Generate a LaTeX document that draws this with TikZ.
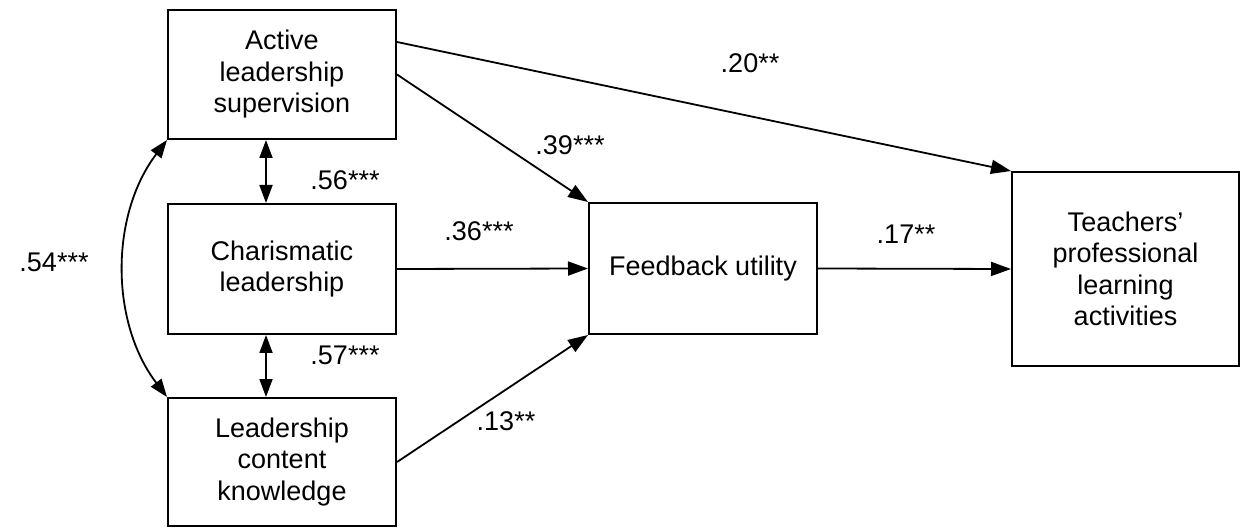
\documentclass[tikz,border=0pt]{standalone}
\usepackage{fontspec}
\setmainfont{Liberation Sans}
\usetikzlibrary{arrows.meta}
\begin{document}
\begin{tikzpicture}[x=1pt,y=-1pt,
  box/.style={draw, line width=2pt, minimum width=228pt, align=center,
    inner sep=0pt, font=\fontsize{27}{31.5}\selectfont},
  coef/.style={inner sep=0pt, font=\fontsize{27}{31.5}\selectfont},
  link/.style={line width=1.8pt, -{Triangle[length=20pt,width=14pt]}},
  corr/.style={line width=1.8pt,
    {Triangle[length=18pt,width=13pt]}-{Triangle[length=18pt,width=13pt]}}]
\useasboundingbox (0,0) rectangle (1248,529);

% constructs
\node[box, minimum height=129pt] (a) at (282,74.5) {Active\\leadership\\supervision};
\node[box, minimum height=130pt] (b) at (282,269) {Charismatic\\leadership};
\node[box, minimum height=128pt] (c) at (282,462) {Leadership\\content\\knowledge};
\node[box, minimum height=131pt] (f) at (703,268.5) {Feedback utility};
\node[box, minimum width=227pt, minimum height=194pt] (t) at (1125.5,269)
  {Teachers’\\professional\\learning\\activities};

% directed paths
\draw[link] ([yshift=-33pt]a.north east) -- (t.north west);
\draw[link] (a.east) -- (f.north west);
\draw[link] (b.east) -- (f.west);
\draw[link] (c.east) -- (f.south west);
\draw[link] (f.east) -- (t.west);

% correlations
\draw[corr] ([xshift=-16pt]a.south) -- ([xshift=-16pt]b.north);
\draw[corr] ([xshift=-16pt]b.south) -- ([xshift=-16pt]c.north);
\draw[corr] (a.south west) .. controls (110,215) and (110,322) .. (c.north west);

% coefficients
\node[coef] (l20) at (750,63) {.20**};
\node[coef] (l39) at (570,145) {.39***};
\node[coef] (l56) at (345,180) {.56***};
\node[coef] (l36) at (479,231) {.36***};
\node[coef] (l17) at (906,234) {.17**};
\node[coef] (l57) at (345,355) {.57***};
\node[coef] (l13) at (506,421) {.13**};
\node[coef] (l54) at (54,262) {.54***};
\end{tikzpicture}
\end{document}
